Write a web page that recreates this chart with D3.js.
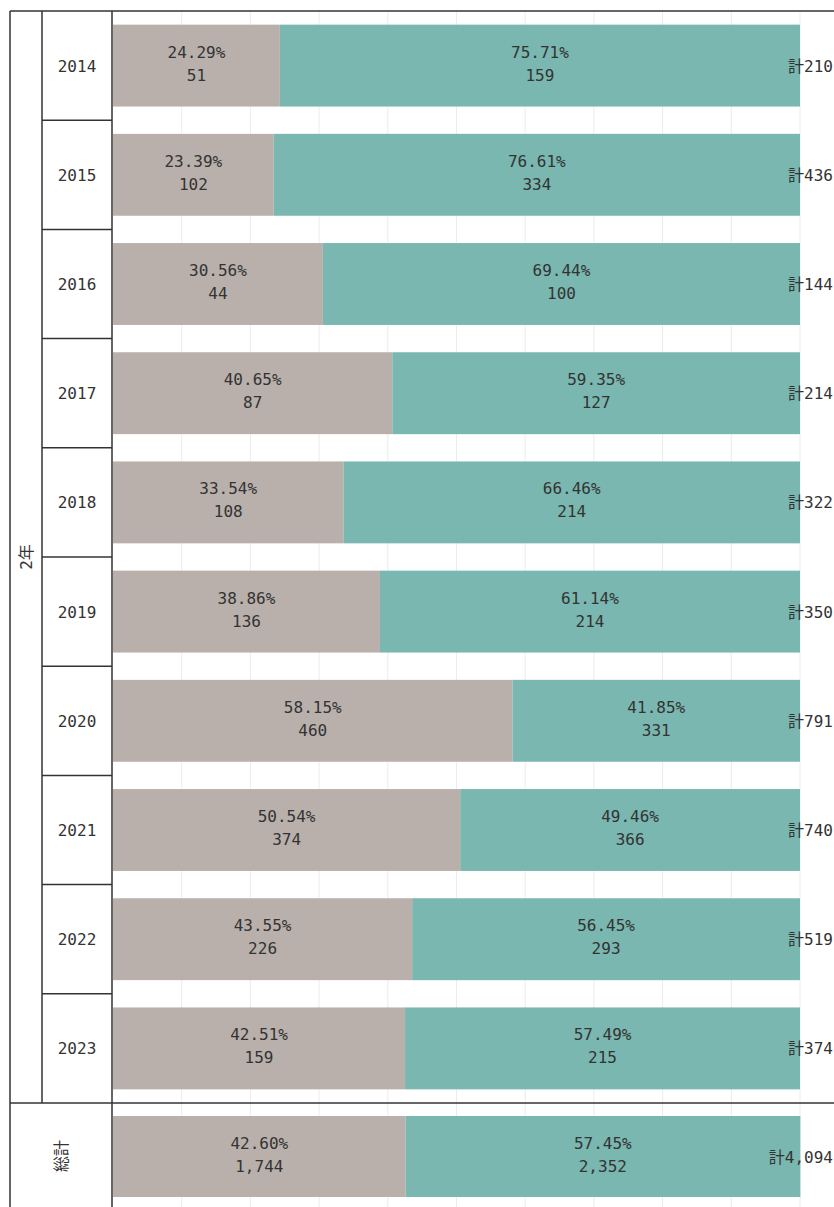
<!DOCTYPE html>
<html>
<head>
<meta charset="utf-8">
<script src="https://cdn.jsdelivr.net/npm/d3@7"></script>
<style>
  body { margin: 0; background: #fff; }
  text { font-family: "DejaVu Sans Mono", "Noto Sans CJK JP", monospace; fill: #333; }
</style>
</head>
<body>
<div id="chart"></div>
<script>
// data
const years = ['2014', '2015', '2016', '2017', '2018', '2019', '2020', '2021', '2022', '2023']
const firstVals = [51, 102, 44, 87, 108, 136, 460, 374, 226, 159]
const secondVals = [159, 334, 100, 127, 214, 214, 331, 366, 293, 215]
const totals = [210, 436, 144, 214, 322, 350, 791, 740, 519, 374]
const grandLabel = '総計'
const groupLabel = '2年'
const grandFirst = 1744
const grandSecond = 2352
const grandTotal = 4094
const gridTicks = [0.1, 0.2, 0.3, 0.4, 0.5, 0.6, 0.7, 0.8, 0.9, 1.0]

const colors = ['#b9b0ab', '#79b7b0']

const width = 834, height = 1207
const leftX = 10, col1 = 42, col2 = 112
const topY = 11, sepY = 1103

const svg = d3.select('#chart').append('svg')
    .attr('width', width)
    .attr('height', height)

const x = d3.scaleLinear().domain([0, 1]).range([113, 800])
const y = d3.scaleBand().domain(years).range([topY, sepY])
    .paddingInner(0.25).paddingOuter(0.125)
const step = y.step()

const fmt = d3.format(',')
const pct = v => (v * 100).toFixed(2) + '%'

// gridlines
svg.append('g')
    .selectAll('line')
    .data(gridTicks)
    .enter()
    .append('line')
    .attr('x1', d => x(d)).attr('x2', d => x(d))
    .attr('y1', topY).attr('y2', height)
    .attr('stroke', '#ececec')
    .attr('stroke-width', 1)

// rows: years + total
const rows = years.map((yr, i) => ({
    y0: y(yr), h: y.bandwidth(), a: firstVals[i], b: secondVals[i], t: totals[i]
}))
rows.push({ y0: 1116, h: 81, a: grandFirst, b: grandSecond, t: grandTotal })

const row = svg.append('g')
    .selectAll('g')
    .data(rows)
    .enter()
    .append('g')

row.append('rect')
    .attr('x', x(0))
    .attr('y', d => d.y0)
    .attr('width', d => x(d.a / d.t) - x(0))
    .attr('height', d => d.h)
    .attr('fill', colors[0])

row.append('rect')
    .attr('x', d => x(d.a / d.t))
    .attr('y', d => d.y0)
    .attr('width', d => x(Math.min(1.001, (d.a + d.b) / d.t)) - x(d.a / d.t))
    .attr('height', d => d.h)
    .attr('fill', colors[1])

// segment labels (percent on top, count below)
function segLabel(sel, getMid, getVal) {
    sel.append('text')
        .attr('x', getMid)
        .attr('y', d => d.y0 + d.h / 2 - 8)
        .attr('text-anchor', 'middle')
        .style('font-size', '16px')
        .text(d => pct(getVal(d) / d.t))
    sel.append('text')
        .attr('x', getMid)
        .attr('y', d => d.y0 + d.h / 2 + 15)
        .attr('text-anchor', 'middle')
        .style('font-size', '16px')
        .text(d => fmt(getVal(d)))
}
segLabel(row, d => (x(0) + x(d.a / d.t)) / 2, d => d.a)
segLabel(row, d => (x(d.a / d.t) + x(Math.min(1, (d.a + d.b) / d.t))) / 2, d => d.b)

// totals on the right
row.append('text')
    .attr('x', 833)
    .attr('y', d => d.y0 + d.h / 2 + 6)
    .attr('text-anchor', 'end')
    .style('font-size', '16px')
    .text(d => '計' + fmt(d.t))

// table lines
const lines = svg.append('g')
    .attr('stroke', '#333')
    .attr('stroke-width', 1.5)
    .attr('fill', 'none')

lines.append('line').attr('x1', leftX).attr('x2', width).attr('y1', topY).attr('y2', topY)
lines.append('line').attr('x1', leftX).attr('x2', width).attr('y1', sepY).attr('y2', sepY)
lines.append('line').attr('x1', leftX).attr('x2', leftX).attr('y1', topY).attr('y2', height)
lines.append('line').attr('x1', col1).attr('x2', col1).attr('y1', topY).attr('y2', sepY)
lines.append('line').attr('x1', col2).attr('x2', col2).attr('y1', topY).attr('y2', height)

lines.selectAll('.rowsep')
    .data(years.slice(1))
    .enter()
    .append('line')
    .attr('x1', col1).attr('x2', col2)
    .attr('y1', d => y(d) - step * 0.125)
    .attr('y2', d => y(d) - step * 0.125)

// year labels
svg.append('g')
    .selectAll('text')
    .data(years)
    .enter()
    .append('text')
    .attr('x', (col1 + col2) / 2)
    .attr('y', d => y(d) + y.bandwidth() / 2 + 6)
    .attr('text-anchor', 'middle')
    .style('font-size', '16px')
    .text(d => d)

svg.append('text')
    .attr('transform', `translate(${(leftX + col1) / 2 + 6},${(topY + sepY) / 2}) rotate(-90)`)
    .attr('text-anchor', 'middle')
    .style('font-size', '16px')
    .text(groupLabel)

svg.append('text')
    .attr('transform', `translate(${(leftX + col2) / 2 + 6},1156) rotate(-90)`)
    .attr('text-anchor', 'middle')
    .style('font-size', '16px')
    .text(grandLabel)
</script>
</body>
</html>
